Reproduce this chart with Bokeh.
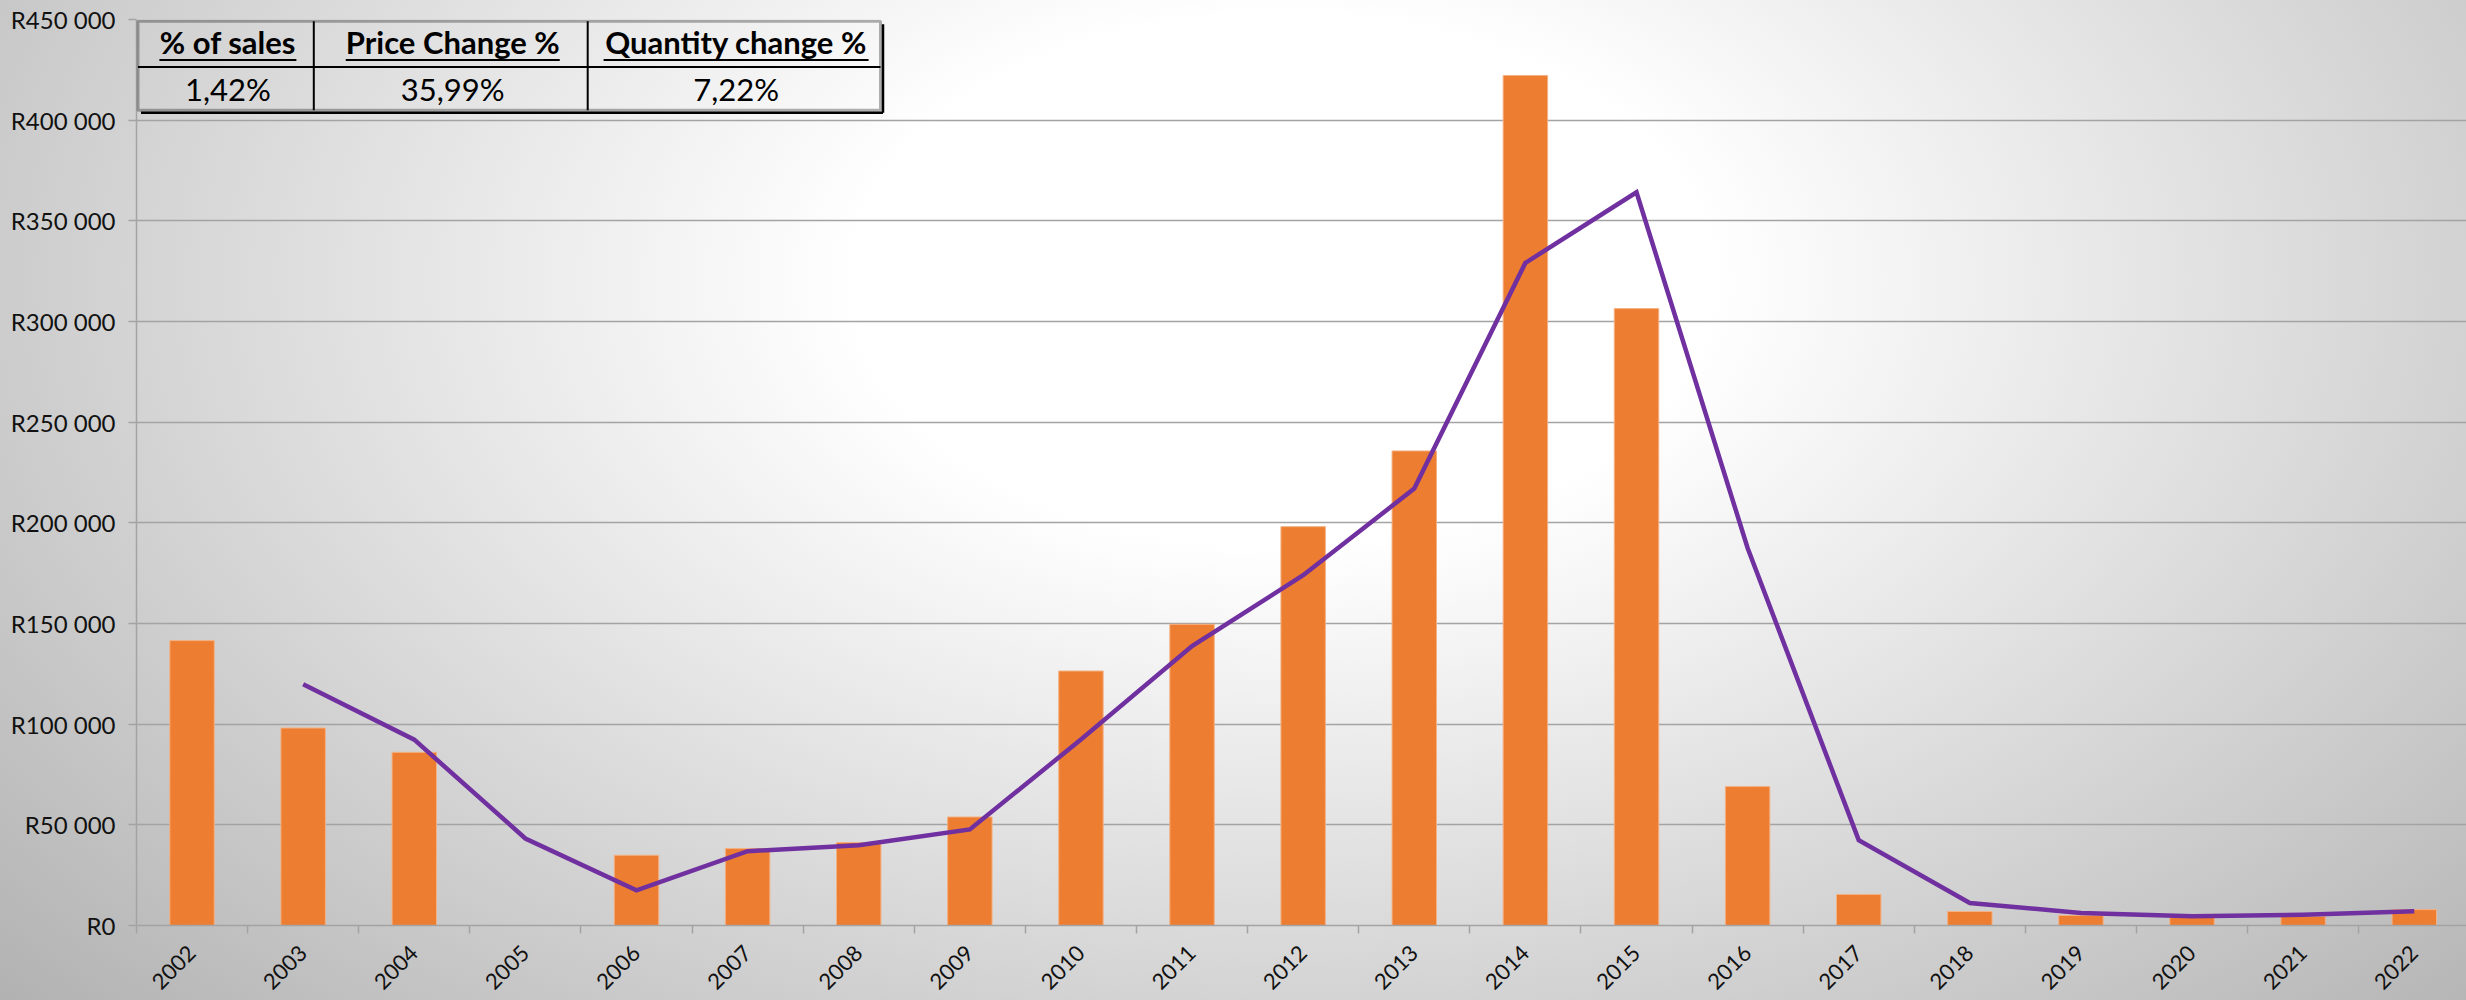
import math
import numpy as np
from bokeh.plotting import figure
from bokeh.models import Range1d, FixedTicker, BoxAnnotation, Label, ColumnDataSource
from bokeh.embed import file_html
from bokeh.resources import INLINE

# ---------------- data ----------------
years = ["2002", "2003", "2004", "2005", "2006", "2007", "2008", "2009", "2010", "2011",
         "2012", "2013", "2014", "2015", "2016", "2017", "2018", "2019", "2020", "2021", "2022"]
sales = [141500, 98100, 86000, 0, 34900, 38200, 41200, 53900, 126400, 149600,
         198100, 235700, 422200, 306400, 69000, 15400, 6950, 5000, 4000, 4500, 7900]
trend = [np.nan, 119800, 92300, 43200, 17500, 36900, 39900, 47700, 92400, 138800,
         174000, 217000, 329100, 364200, 187500, 42400, 11200, 6250, 4600, 5300, 7100]
y_ticks = [0, 50000, 100000, 150000, 200000, 250000, 300000, 350000, 400000, 450000]
table_headers = ["% of sales", "Price Change %", "Quantity change %"]
table_values = ["1,42%", "35,99%", "7,22%"]

# ---------------- layout ----------------
W, H = 2466, 1000
BL, BR, BT, BB = 136, 0, 19, 75
n = len(years)
idx = list(range(n))
x_start, x_end = -0.5, n - 0.53
y_max = y_ticks[-1]
frame_w = W - BL - BR
frame_h = H - BT - BB

GRID = "#a3a3a3"
FONT = "Lato"

p = figure(width=W, height=H, x_range=Range1d(x_start, x_end), y_range=Range1d(0, y_max),
           output_backend="svg", toolbar_location=None,
           min_border_left=BL, min_border_right=BR, min_border_top=BT, min_border_bottom=BB,
           background_fill_color=None, border_fill_color=None, outline_line_color=None,
           styles={"background": "radial-gradient(ellipse 72% 110% at 52% 28%, #ffffff 0%, #ffffff 24%, #afafaf 100%)"})

# grid
p.xgrid.visible = False
p.ygrid.ticker = FixedTicker(ticks=y_ticks)
p.ygrid.grid_line_color = GRID
p.ygrid.grid_line_width = 1.5

# y axis
p.yaxis.ticker = FixedTicker(ticks=y_ticks)
p.yaxis.major_label_overrides = {t: "R" + f"{t:,}".replace(",", " ") for t in y_ticks}
p.yaxis.major_tick_out = 8
p.yaxis.major_tick_in = 0
p.yaxis.minor_tick_line_color = None
p.yaxis.major_tick_line_color = GRID
p.yaxis.major_tick_line_width = 1.5
p.yaxis.axis_line_color = GRID
p.yaxis.axis_line_width = 1.5
p.yaxis.major_label_standoff = 13
p.yaxis.major_label_text_font = FONT
p.yaxis.major_label_text_font_size = "24px"
p.yaxis.major_label_text_color = "#111111"

# x axis: labels at category centres, tick marks at category boundaries
p.xaxis.ticker = FixedTicker(ticks=idx, minor_ticks=[i - 0.5 for i in range(n + 1)])
p.xaxis.major_label_overrides = {i: y for i, y in enumerate(years)}
p.xaxis.major_tick_line_color = None
p.xaxis.major_tick_out = 8
p.xaxis.major_tick_in = 0
p.xaxis.minor_tick_out = 8
p.xaxis.minor_tick_in = 0
p.xaxis.minor_tick_line_color = GRID
p.xaxis.minor_tick_line_width = 1.5
p.xaxis.axis_line_color = GRID
p.xaxis.axis_line_width = 1.5
p.xaxis.major_label_orientation = math.pi / 4
p.xaxis.major_label_standoff = 16
p.xaxis.major_label_text_font = FONT
p.xaxis.major_label_text_font_size = "22px"
p.xaxis.major_label_text_color = "#111111"

# data marks
src = ColumnDataSource(dict(x=idx, sales=sales, trend=np.array(trend, dtype=float)))
p.vbar(x="x", top="sales", width=0.4, source=src,
       fill_color="#ED7D31", line_color="#F4B183", line_width=1)
p.line(x="x", y="trend", source=src, line_color="#7030A0", line_width=4.5, line_join="miter")

# ---------------- summary table (annotation) ----------------
sx = (x_end - x_start) / frame_w
sy = y_max / frame_h


def fx(px):
    return x_start + px * sx


def fy(py):
    return y_max - py * sy


t_left, t_right, t_top, t_bottom = 1.5, 744.0, 1.7, 90.7
col_div = [177.3, 451.2]
row_div = 47.4
edges = [t_left] + col_div + [t_right]
centers = [(edges[i] + edges[i + 1]) / 2 for i in range(3)]
underline_w = [137, 214, 265]

p.add_layout(BoxAnnotation(left=fx(t_left), right=fx(t_right), top=fy(t_top), bottom=fy(t_bottom),
                           fill_color=None, line_color="black", line_width=3))
# shadow on right / bottom
p.segment(x0=[fx(t_left + 3), fx(t_right + 2.5)], y0=[fy(t_bottom + 2.5), fy(t_top + 3)],
          x1=[fx(t_right + 2.5), fx(t_right + 2.5)], y1=[fy(t_bottom + 2.5), fy(t_bottom + 2.5)],
          line_color="black", line_width=2.5)
# inner lines
p.segment(x0=[fx(col_div[0]), fx(col_div[1]), fx(t_left)],
          y0=[fy(t_top), fy(t_top), fy(row_div)],
          x1=[fx(col_div[0]), fx(col_div[1]), fx(t_right)],
          y1=[fy(t_bottom), fy(t_bottom), fy(row_div)],
          line_color="black", line_width=2)
# underlines
p.segment(x0=[fx(c + 2 - w / 2) for c, w in zip(centers, underline_w)], y0=[fy(40.5)] * 3,
          x1=[fx(c + 2 + w / 2) for c, w in zip(centers, underline_w)], y1=[fy(40.5)] * 3,
          line_color="black", line_width=2)

for c, h, v in zip(centers, table_headers, table_values):
    p.add_layout(Label(x=fx(c + 2), y=fy(22.7), text=h, text_font=FONT, text_font_size="31px",
                       text_font_style="bold", text_align="center", text_baseline="middle",
                       text_color="black"))
    p.add_layout(Label(x=fx(c + 2), y=fy(69.5), text=v, text_font=FONT, text_font_size="31px",
                       text_align="center", text_baseline="middle", text_color="black"))

open("out.html", "w").write(file_html(p, INLINE))
